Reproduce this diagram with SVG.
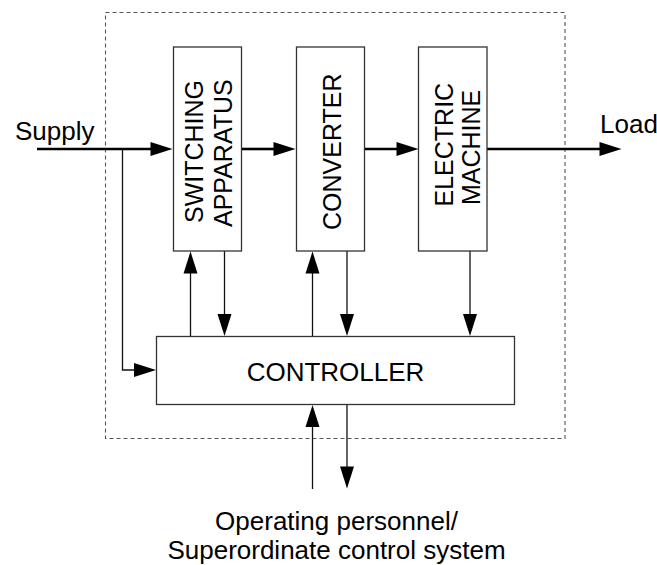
<svg xmlns="http://www.w3.org/2000/svg" width="657" height="565" viewBox="0 0 657 565">
  <style>
    .box { fill: #fff; stroke: #333; stroke-width: 1.3; }
    .frame { fill: none; stroke: #555; stroke-width: 1.1; stroke-dasharray: 4 3; }
    .power { fill: none; stroke: #000; stroke-width: 2.6; }
    .signal { fill: none; stroke: #111; stroke-width: 1.3; }
    .lbl { font-family: "Liberation Sans", Arial, sans-serif; font-size: 26px; fill: #000; }
    .vlbl { font-family: "Liberation Sans", Arial, sans-serif; font-size: 25px; fill: #000; }
  </style>
  <defs>
    <marker id="ah" markerUnits="userSpaceOnUse" markerWidth="23" markerHeight="14" refX="0.5" refY="7" orient="auto" overflow="visible">
      <path d="M0,0 L22,7 L0,14 z" fill="#000"/>
    </marker>
  </defs>

  <!-- drive system boundary -->
  <rect class="frame" x="105.5" y="12.5" width="459.5" height="426"/>

  <g id="connectors">
    <!-- power path -->
    <path class="power" d="M37,149 H151" marker-end="url(#ah)"/>
    <path class="power" d="M242,149 H274" marker-end="url(#ah)"/>
    <path class="power" d="M364.5,149 H397" marker-end="url(#ah)"/>
    <path class="power" d="M487,149 H600" marker-end="url(#ah)"/>
    <!-- supply measurement to controller -->
    <path class="signal" d="M122.5,149 V370 H134.5" marker-end="url(#ah)"/>
    <!-- controller <-> switching apparatus -->
    <path class="signal" d="M190.5,336.5 V273" marker-end="url(#ah)"/>
    <path class="signal" d="M224.5,251 V314.5" marker-end="url(#ah)"/>
    <!-- controller <-> converter -->
    <path class="signal" d="M312.5,336.5 V273" marker-end="url(#ah)"/>
    <path class="signal" d="M347,251 V314.5" marker-end="url(#ah)"/>
    <!-- electric machine feedback -->
    <path class="signal" d="M470,251 V314.5" marker-end="url(#ah)"/>
    <!-- operator interface -->
    <path class="signal" d="M312.5,489 V426.5" marker-end="url(#ah)"/>
    <path class="signal" d="M347,404.5 V467" marker-end="url(#ah)"/>
  </g>

  <g id="supply">
    <text class="lbl" x="15" y="140">Supply</text>
  </g>

  <g id="load">
    <text class="lbl" x="600" y="133">Load</text>
  </g>

  <g id="switching-apparatus">
    <rect class="box" x="173.5" y="47" width="68" height="204"/>
    <text class="vlbl" transform="translate(203,223) rotate(-90)">SWITCHING</text>
    <text class="vlbl" transform="translate(231.5,227) rotate(-90)">APPARATUS</text>
  </g>

  <g id="converter">
    <rect class="box" x="296.5" y="47" width="68" height="204"/>
    <text class="vlbl" transform="translate(340.5,230) rotate(-90)">CONVERTER</text>
  </g>

  <g id="electric-machine">
    <rect class="box" x="418.5" y="47" width="68.5" height="204"/>
    <text class="vlbl" transform="translate(453,206.5) rotate(-90)">ELECTRIC</text>
    <text class="vlbl" transform="translate(480,205) rotate(-90)">MACHINE</text>
  </g>

  <g id="controller">
    <rect class="box" x="156.5" y="336.5" width="358" height="68"/>
    <text class="lbl" x="335.5" y="381" text-anchor="middle">CONTROLLER</text>
  </g>

  <g id="operator">
    <text class="lbl" x="336.5" y="530" text-anchor="middle">Operating personnel/</text>
    <text class="lbl" x="336.5" y="559" text-anchor="middle">Superordinate control system</text>
  </g>
</svg>
